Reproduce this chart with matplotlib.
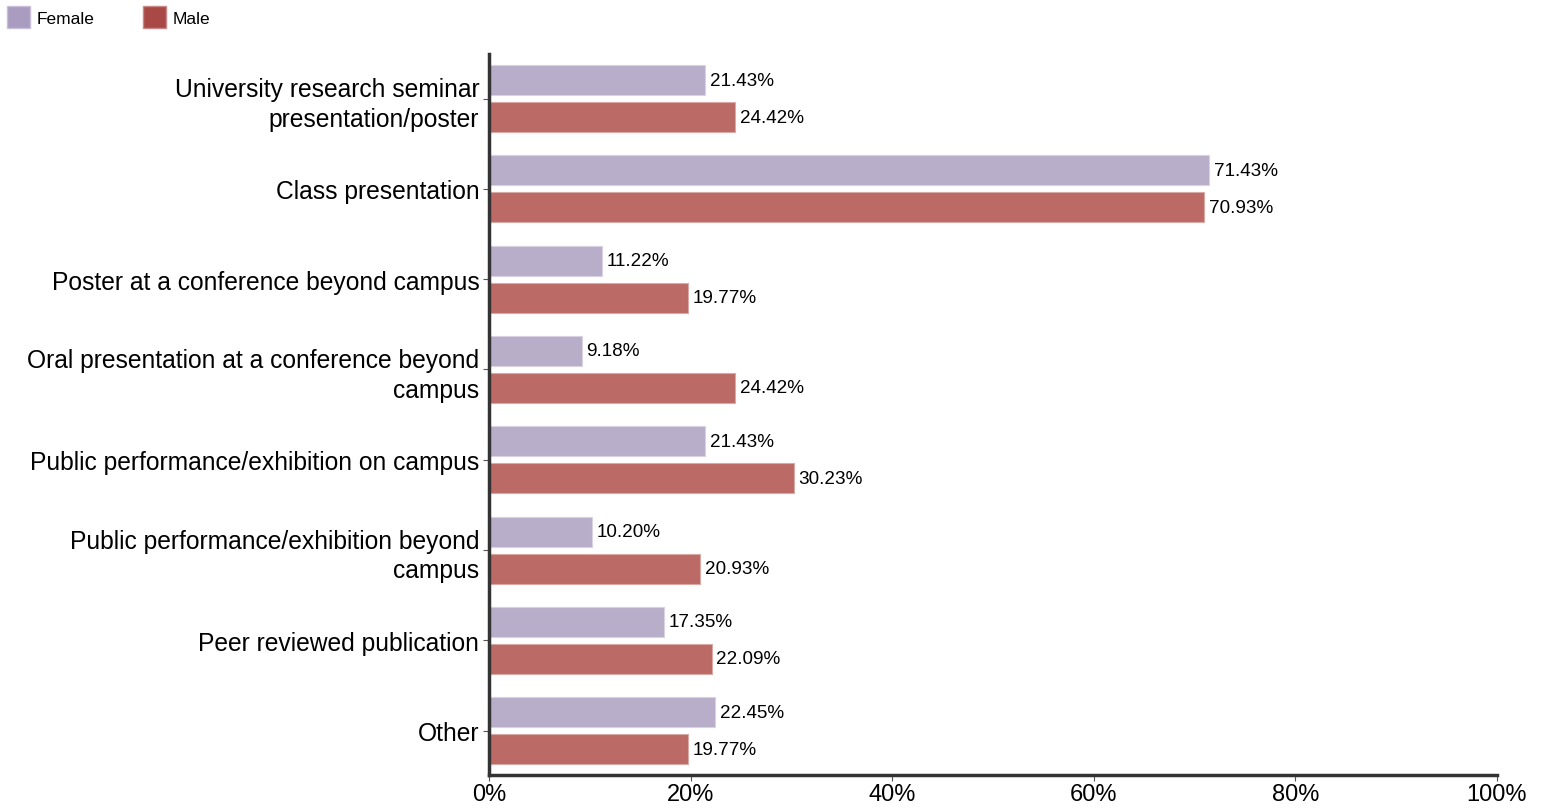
import matplotlib
matplotlib.use("Agg")
import matplotlib.pyplot as plt
from matplotlib.patches import Patch
from matplotlib.ticker import FuncFormatter

categories = [
    "University research seminar\npresentation/poster",
    "Class presentation",
    "Poster at a conference beyond campus",
    "Oral presentation at a conference beyond\ncampus",
    "Public performance/exhibition on campus",
    "Public performance/exhibition beyond\ncampus",
    "Peer reviewed publication",
    "Other",
]
female = [21.43, 71.43, 11.22, 9.18, 21.43, 10.20, 17.35, 22.45]
male = [24.42, 70.93, 19.77, 24.42, 30.23, 20.93, 22.09, 19.77]
xticks = [0, 20, 40, 60, 80, 100]

plt.rcParams['font.family'] = ['Liberation Sans', 'DejaVu Sans']

fig = plt.figure(figsize=(15.45, 8.12), dpi=100)
ax = fig.add_axes([489/1545, 1 - 776/812, (1497-489)/1545, (776-55)/812])

fc = "#b8aeca"
mc = "#bb6a66"
h = 0.333
off = 0.205
ys = list(range(len(categories)))
for i, (f, m) in enumerate(zip(female, male)):
    ax.barh(i - off, f, height=h, color=fc, edgecolor="#d8d2e2", linewidth=0.8)
    ax.barh(i + off, m, height=h, color=mc, edgecolor="#d9a9a6", linewidth=0.8)
    ax.text(f + 0.45, i - off, f"{f:.2f}%", va="center", ha="left", fontsize=13.6)
    ax.text(m + 0.45, i + off, f"{m:.2f}%", va="center", ha="left", fontsize=13.6)

ax.set_ylim(7.49, -0.493)
ax.set_xlim(0, 100)
ax.set_yticks(ys)
ax.set_yticklabels(categories, fontsize=17.7, linespacing=1.3)
ax.set_xticks(xticks)
ax.xaxis.set_major_formatter(FuncFormatter(lambda v, p: f"{v:.0f}%"))
ax.tick_params(axis='x', labelsize=17, length=4, width=0.8, color="#555555", pad=2)
ax.tick_params(axis='y', length=4, width=0.8, color="#555555", pad=3)
for s in ["top", "right"]:
    ax.spines[s].set_visible(False)
for s in ["left", "bottom"]:
    ax.spines[s].set_linewidth(2.5)
    ax.spines[s].set_color("#333333")

handles = [Patch(facecolor="#a99cc0", edgecolor="#c8c0d8", label="Female"),
           Patch(facecolor="#a94945", edgecolor="#c88a88", label="Male")]
fig.legend(handles=handles, loc="upper left", bbox_to_anchor=(-0.0025, 1.004), ncol=2,
           frameon=False, fontsize=12.5, handlelength=1.35, handleheight=1.6,
           columnspacing=2.75, handletextpad=0.4, borderaxespad=0.2)

fig.savefig("out.png", dpi=100)
